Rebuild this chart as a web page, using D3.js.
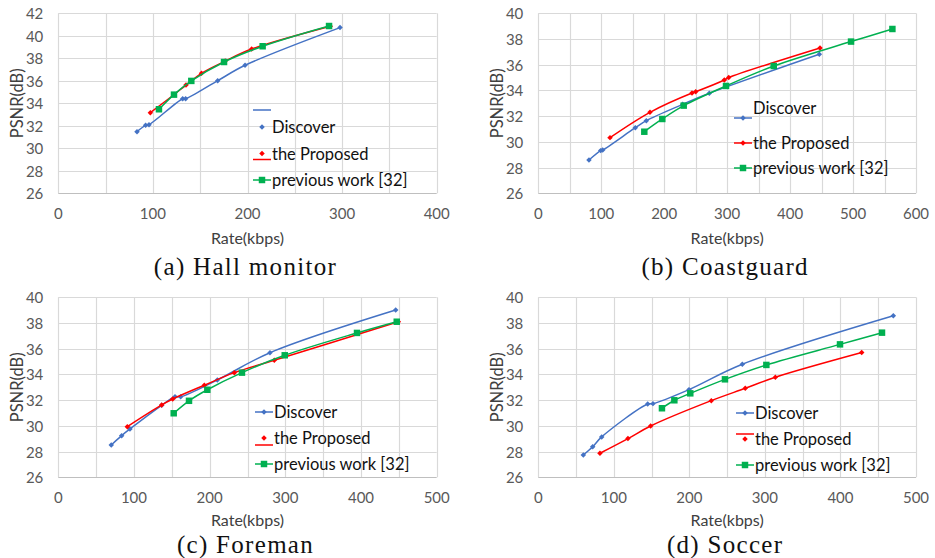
<!DOCTYPE html>
<html>
<head>
<meta charset="utf-8">
<script src="https://cdn.jsdelivr.net/npm/d3@7"></script>
<style>
  html, body { margin: 0; padding: 0; background: #fff; }
  svg { display: block; }
</style>
</head>
<body>
<div id="chart"></div>
<script>
// rate (kbps), PSNR (dB) pairs
const hallDiscover = [[83.2, 31.48], [92.3, 32.04], [95.9, 32.1], [131.5, 34.41], [134.6, 34.41], [168.5, 36.01], [197.4, 37.38], [297.8, 40.73]];
const hallProposed = [[97.3, 33.17], [122.5, 34.78], [135.0, 35.62], [151.4, 36.67], [176.4, 37.75], [204.4, 38.82], [287.5, 40.85]];
const hallPrevious = [[106.4, 33.47], [122.3, 34.77], [140.6, 35.99], [175.2, 37.67], [216.0, 39.07], [286.2, 40.87]];

const coastDiscover = [[80.5, 28.59], [99.1, 29.32], [102.3, 29.37], [154.1, 31.1], [171.6, 31.65], [229.4, 32.92], [271.7, 33.78], [446.4, 36.81]];
const coastProposed = [[113.9, 30.33], [177.4, 32.3], [244.2, 33.8], [250.0, 33.9], [295.5, 34.81], [302.5, 35.0], [447.5, 37.3]];
const coastPrevious = [[168.4, 30.79], [197.0, 31.78], [231.0, 32.82], [298.2, 34.35], [374.0, 35.9], [496.8, 37.8], [562.5, 38.78]];

const foreDiscover = [[70.0, 28.51], [83.7, 29.24], [94.7, 29.76], [136.6, 31.6], [154.2, 32.27], [161.7, 32.27], [210.1, 33.57], [279.7, 35.69], [445.8, 39.01]];
const foreProposed = [[91.2, 29.94], [136.6, 31.63], [151.2, 32.09], [192.9, 33.16], [232.6, 34.14], [285.4, 35.1], [449.3, 38.1]];
const forePrevious = [[152.5, 30.98], [172.7, 31.95], [196.9, 32.81], [242.7, 34.14], [299.2, 35.49], [394.7, 37.23], [447.2, 38.1]];

const soccerDiscover = [[59.6, 27.74], [72.0, 28.38], [83.9, 29.14], [144.8, 31.7], [151.8, 31.73], [199.5, 32.82], [270.1, 34.79], [470.0, 38.56]];
const soccerProposed = [[81.6, 27.87], [118.7, 29.01], [148.7, 29.99], [229.0, 31.96], [274.0, 32.92], [313.8, 33.78], [428.1, 35.7]];
const soccerPrevious = [[163.7, 31.37], [180.1, 31.99], [201.2, 32.53], [247.1, 33.62], [301.9, 34.74], [399.4, 36.34], [455.0, 37.25]];

const seriesNames = ["Discover", "the Proposed", "previous work [32]"];
const captions = ["(a) Hall monitor", "(b) Coastguard", "(c) Foreman", "(d) Soccer"];
const xMaxes = [400, 600, 500, 500];
const yRanges = [[26, 42], [26, 40], [26, 40], [26, 40]];

(() => {
  const width = 935, height = 558;
  const svg = d3.select("#chart").append("svg")
    .attr("width", width).attr("height", height)
    .attr("viewBox", [0, 0, width, height]);

  const colors = ["#4472C4", "#FF0000", "#00B050"];
  // diamonds are squares turned 45 degrees, like the spreadsheet markers
  const symbolSizes = [15, 15, 42];
  const rotations = [45, 45, 0];
  const marker = k => d3.symbol().type(d3.symbolSquare).size(symbolSizes[k])();

  // frame of each panel in page pixels
  const frames = [
    {left: 58.3, right: 436.7, top: 13.3, bottom: 193.3, titleGap: 44, capGap: 73},
    {left: 538.3, right: 916, top: 13.3, bottom: 193.3, titleGap: 44, capGap: 73},
    {left: 58.3, right: 436.7, top: 297.3, bottom: 477.3, titleGap: 42, capGap: 67},
    {left: 538.3, right: 916, top: 297.3, bottom: 477.3, titleGap: 42, capGap: 67}
  ];
  // legend placement (text x, first row y, row gap), with the odd line offsets of the original
  const legends = [
    {x: 272, y: 127, gap: 26.5, lineDy: [-17, 6, 0], textDy: [0, 0, 0]},
    {x: 753, y: 118, gap: 25, lineDy: [0, 0, 0], textDy: [-10, 0, 0]},
    {x: 274, y: 412, gap: 26, lineDy: [0, 7, 0], textDy: [0, 0, 0]},
    {x: 755, y: 413, gap: 26, lineDy: [0, -5, 0], textDy: [0, 0, 0]}
  ];
  const allSeries = [
    [hallDiscover, hallProposed, hallPrevious],
    [coastDiscover, coastProposed, coastPrevious],
    [foreDiscover, foreProposed, forePrevious],
    [soccerDiscover, soccerProposed, soccerPrevious]
  ];

  const drawPanel = (i) => {
    const f = frames[i];
    const x = d3.scaleLinear().domain([0, xMaxes[i]]).range([f.left, f.right]);
    const y = d3.scaleLinear().domain(yRanges[i]).range([f.bottom, f.top]);
    const g = svg.append("g").attr("class", "panel");

    // grid
    const xGrid = d3.range(0, xMaxes[i] + 1, 50);
    const yGrid = d3.range(yRanges[i][0], yRanges[i][1] + 0.1, 2);
    g.selectAll(".vgrid").data(xGrid).join("line")
      .attr("x1", d => Math.round(x(d)) + 0.5).attr("x2", d => Math.round(x(d)) + 0.5)
      .attr("y1", f.top).attr("y2", f.bottom)
      .attr("stroke", "#d9d9d9").attr("stroke-width", 1.2);
    g.selectAll(".hgrid").data(yGrid).join("line")
      .attr("x1", f.left).attr("x2", f.right)
      .attr("y1", d => Math.round(y(d)) + 0.5).attr("y2", d => Math.round(y(d)) + 0.5)
      .attr("stroke", d => d === yRanges[i][0] ? "#bfbfbf" : "#d9d9d9").attr("stroke-width", 1.2);

    // tick labels
    g.selectAll(".xt").data(d3.range(0, xMaxes[i] + 1, 100)).join("text")
      .attr("x", d => x(d)).attr("y", f.bottom + 20)
      .attr("text-anchor", "middle").attr("dominant-baseline", "central")
      .attr("font-size", 15).attr("fill", "#595959")
      .text(d => d);
    g.selectAll(".yt").data(yGrid).join("text")
      .attr("x", f.left - 15).attr("y", d => y(d))
      .attr("text-anchor", "end").attr("dominant-baseline", "central")
      .attr("font-size", 15).attr("fill", "#595959")
      .text(d => d);

    // axis titles
    g.append("text")
      .attr("transform", `translate(${f.left - 41},${(f.top + f.bottom) / 2}) rotate(-90)`)
      .attr("text-anchor", "middle").attr("dominant-baseline", "central")
      .attr("font-size", 16.5).attr("fill", "#404040")
      .text("PSNR(dB)");
    g.append("text")
      .attr("x", (f.left + f.right) / 2).attr("y", f.bottom + f.titleGap)
      .attr("text-anchor", "middle").attr("dominant-baseline", "central")
      .attr("font-size", 16).attr("fill", "#404040")
      .text("Rate(kbps)");

    // caption
    svg.append("text")
      .attr("x", (f.left + f.right) / 2 - 2).attr("y", f.bottom + f.capGap)
      .attr("text-anchor", "middle").attr("dominant-baseline", "central")
      .attr("font-family", "'Liberation Serif', serif")
      .attr("font-size", 25).attr("letter-spacing", 1.3).attr("fill", "#111")
      .text(captions[i]);

    // series
    const line = d3.line().x(d => x(d[0])).y(d => y(d[1])).curve(d3.curveCatmullRom.alpha(0.5));
    allSeries[i].forEach((s, k) => {
      g.append("path").datum(s)
        .attr("d", line)
        .attr("fill", "none").attr("stroke", colors[k]).attr("stroke-width", 1.5);
      g.selectAll(null).data(s).join("path")
        .attr("d", marker(k))
        .attr("transform", d => `translate(${x(d[0])},${y(d[1])}) rotate(${rotations[k]})`)
        .attr("fill", colors[k]);
    });

    // legend
    const L = legends[i];
    seriesNames.forEach((name, k) => {
      const ly = L.y + k * L.gap;
      g.append("line")
        .attr("x1", L.x - 19).attr("x2", L.x - 1)
        .attr("y1", ly + L.lineDy[k]).attr("y2", ly + L.lineDy[k])
        .attr("stroke", colors[k]).attr("stroke-width", 1.5);
      g.append("path")
        .attr("d", marker(k))
        .attr("transform", `translate(${L.x - 10},${ly}) rotate(${rotations[k]})`)
        .attr("fill", colors[k]);
      g.append("text")
        .attr("x", L.x).attr("y", ly + L.textDy[k])
        .attr("dominant-baseline", "central")
        .attr("font-size", 16.5).attr("fill", "#111")
        .text(name);
    });
  };

  svg.attr("font-family", "Lato, 'Open Sans', sans-serif");
  d3.range(4).forEach(drawPanel);
})();
</script>
</body>
</html>
